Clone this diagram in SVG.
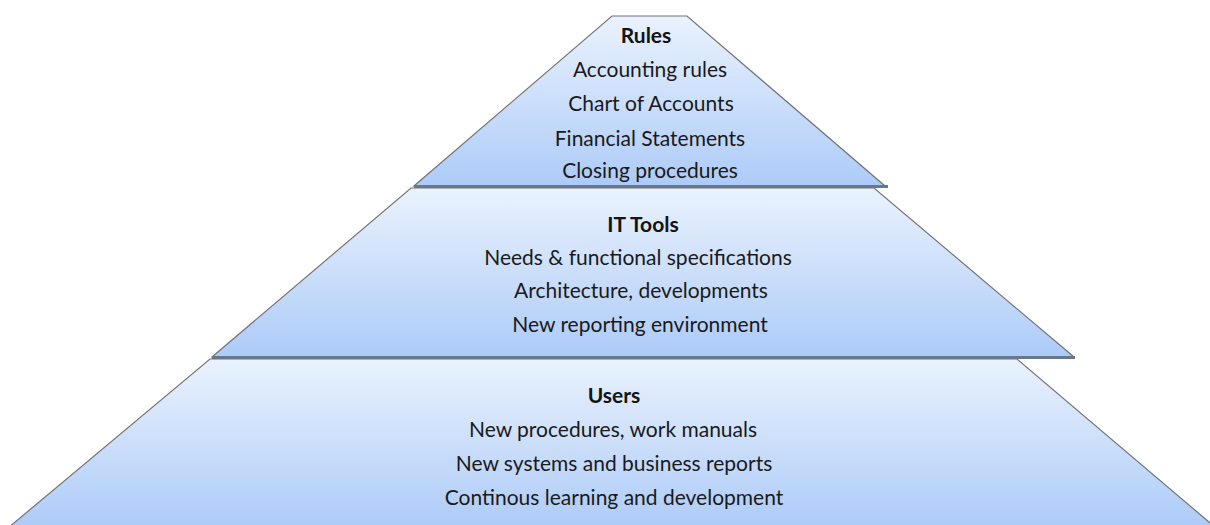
<svg xmlns="http://www.w3.org/2000/svg" width="1210" height="525" viewBox="0 0 1210 525">
  <defs>
    <linearGradient id="tierFill" x1="0" y1="0" x2="0" y2="1">
      <stop offset="0" stop-color="#eaf2fd"/>
      <stop offset="1" stop-color="#adcbf8"/>
    </linearGradient>
    <style>
      .tier { fill: url(#tierFill); stroke: #747474; stroke-width: 1.2; stroke-linejoin: miter; }
      .base { stroke: #67778c; stroke-width: 3; stroke-linecap: butt; }
      .title { font-family: "Lato", "Liberation Sans", sans-serif; font-weight: bold; font-size: 21px; fill: #141414; text-anchor: middle; }
      .item { font-family: "Lato", "Liberation Sans", sans-serif; font-size: 21px; fill: #1a1a1a; text-anchor: middle; }
    </style>
  </defs>
  <rect width="1210" height="525" fill="#ffffff"/>

  <!-- bottom tier: Users (runs past the lower edge) -->
  <g id="tier-users">
    <polygon class="tier" points="210,359 1017,359 1216,528 8,528"/>
    <text class="title" x="614" y="403">Users</text>
    <text class="item" x="613" y="437">New procedures, work manuals</text>
    <text class="item" x="614" y="471">New systems and business reports</text>
    <text class="item" x="614" y="505">Continous learning and development</text>
  </g>

  <!-- middle tier: IT Tools -->
  <g id="tier-it-tools">
    <polygon class="tier" points="411,188 874,188 1074,357 212,357"/>
    <line class="base" x1="212" y1="357.5" x2="1075" y2="357.5"/>
    <text class="title" x="643" y="232">IT Tools</text>
    <text class="item" x="638" y="265">Needs &amp; functional specifications</text>
    <text class="item" x="641" y="298">Architecture, developments</text>
    <text class="item" x="640" y="332">New reporting environment</text>
  </g>

  <!-- top tier: Rules -->
  <g id="tier-rules">
    <polygon class="tier" points="612,16 687,16 885,186 414,186"/>
    <line class="base" x1="414" y1="186.5" x2="888" y2="186.5"/>
    <text class="title" x="646" y="43">Rules</text>
    <text class="item" x="650" y="77">Accounting rules</text>
    <text class="item" x="651" y="111">Chart of Accounts</text>
    <text class="item" x="650" y="146">Financial Statements</text>
    <text class="item" x="650" y="178">Closing procedures</text>
  </g>

  <!-- no connectors in this diagram -->
  <g id="connectors"/>
</svg>
